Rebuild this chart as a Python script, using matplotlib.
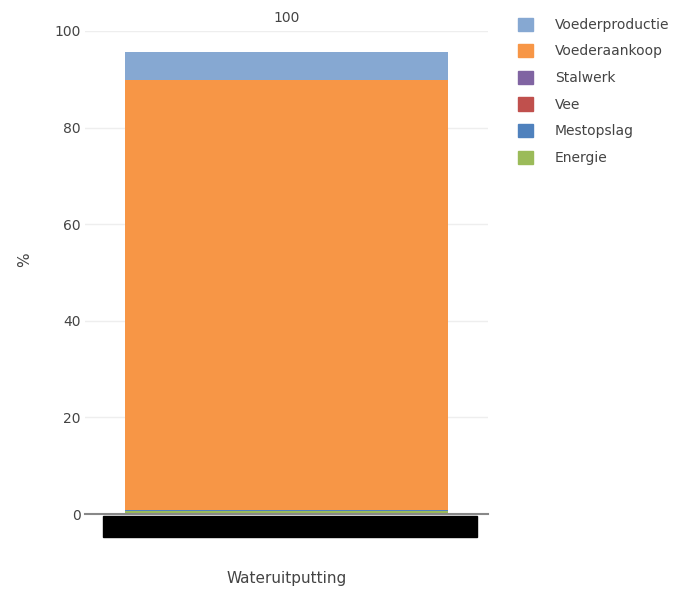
import matplotlib
matplotlib.use('Agg')
import matplotlib.pyplot as plt
from matplotlib.patches import Patch, Rectangle

# --- data ---
category = ['Wateruitputting']
series = ['Energie', 'Mestopslag', 'Vee', 'Stalwerk', 'Voederaankoop', 'Voederproductie']
values = [0.6, 0.2, 0.0, 0.0, 89.05, 5.75]
colors = ['#9bbb59', '#4f81bd', '#c0504d', '#8064a2', '#f79646', '#86a8d2']
total_label = '100'

plt.rcParams['font.family'] = ['DejaVu Sans']

fig = plt.figure(figsize=(6.9, 5.92), dpi=100)
ax = fig.add_axes([85 / 690, 78 / 592, 403 / 690, 483 / 592])

bottom = 0
for name, val, col in zip(series, values, colors):
    ax.bar(0, val, width=0.8, bottom=bottom, color=col, label=name, linewidth=0)
    bottom += val

ax.set_xlim(-0.5, 0.5)
ax.set_ylim(0, 100)
ax.set_yticks([0, 20, 40, 60, 80, 100])
ax.set_xticks([])
ax.grid(axis='y', color='#eeeeee', linewidth=1)
ax.set_axisbelow(True)
for s in ['top', 'right', 'left']:
    ax.spines[s].set_visible(False)
ax.spines['bottom'].set_color('#888888')
ax.spines['bottom'].set_linewidth(1.5)
ax.tick_params(axis='y', length=0, pad=3, labelsize=10, labelcolor='#444444')

fig.text(25 / 690, 1 - 260 / 592, '%', rotation=90, ha='center', va='center',
         fontsize=11, color='#444444')

ax.text(0, 101.2, total_label, ha='center', va='bottom', fontsize=10, color='#444444')

# redacted category label
fig.patches.append(Rectangle((103 / 690, 55 / 592), 374 / 690, 21 / 592,
                             transform=fig.transFigure, color='black', zorder=5))
fig.text(287 / 690, 14 / 592, category[0], ha='center', va='center',
         fontsize=11, color='#444444')

handles = [Patch(color=c, label=n) for n, c in zip(series, colors)][::-1]
fig.legend(handles=handles, loc='upper left', bbox_to_anchor=(505 / 690, 1 - 5 / 592),
           frameon=False, fontsize=10, handlelength=1.1, handleheight=1.1,
           handletextpad=1.6, labelspacing=0.88, labelcolor='#444444')

fig.savefig('out.png', dpi=100)
